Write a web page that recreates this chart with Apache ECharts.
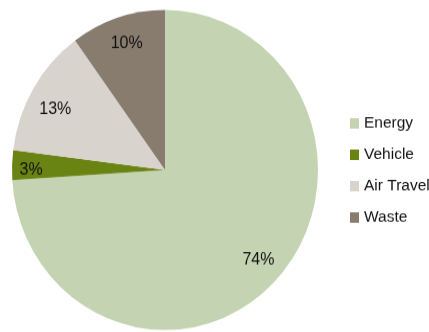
<!DOCTYPE html>
<html>
<head>
<meta charset="utf-8">
<script src="https://cdn.jsdelivr.net/npm/echarts@6/dist/echarts.min.js"></script>
<style>
  html, body { margin: 0; padding: 0; background: #fff; overflow: hidden; }
  #wrap { width: 429px; height: 332px; overflow: hidden; }
  /* the chart is drawn slightly compressed and stretched back vertically */
  #chart { width: 429px; height: 317.5px; transform-origin: 0 0; transform: scaleY(1.0457); }
</style>
</head>
<body>
<div id="wrap"><div id="chart"></div></div>
<script>
// Emission sources, share of total footprint (%)
const categories = ['Energy', 'Vehicle', 'Air Travel', 'Waste'];
const shares = [74, 3, 13, 10];
const colors = ['#c4d3b1', '#6a8414', '#d9d3cd', '#877c6e'];

const pieData = categories.map((name, i) => ({
  name: name,
  value: shares[i],
  itemStyle: { color: colors[i] }
}));

// small nudges so the narrow slices' labels sit nearer the rim
const labelNudge = { 'Vehicle': [-10, 4], 'Air Travel': [-3, 5], 'Waste': [0, -3], 'Energy': [3, 1] };

const chart = echarts.init(document.getElementById('chart'), null, { renderer: 'canvas' });

chart.setOption({
  animation: false,
  legend: {
    orient: 'vertical',
    left: 345,
    top: 105,
    icon: 'rect',
    itemWidth: 9,
    itemHeight: 10,
    itemGap: 14,
    data: categories,
    textStyle: {
      fontFamily: 'Liberation Sans, Arial, sans-serif',
      fontSize: 15.5,
      color: '#111'
    },
    selectedMode: false
  },
  series: [
    {
      type: 'pie',
      center: [165, 162.6],
      radius: [0, 153],
      startAngle: 90,
      clockwise: true,
      label: { show: false },
      labelLine: { show: false },
      emphasis: { disabled: true },
      silent: true,
      data: pieData
    },
    {
      // transparent ring that carries the percentage labels near the rim
      type: 'pie',
      center: [165, 162.6],
      radius: [92, 150],
      startAngle: 90,
      clockwise: true,
      silent: true,
      emphasis: { disabled: true },
      itemStyle: { color: 'rgba(0,0,0,0)' },
      labelLine: { show: false },
      label: {
        show: true,
        position: 'inside',
        formatter: p => p.value + '%',
        fontFamily: 'Liberation Sans, Arial, sans-serif',
        fontSize: 16,
        color: '#111'
      },
      data: categories.map((name, i) => ({
        name: name,
        value: shares[i],
        label: { offset: labelNudge[name] }
      }))
    }
  ]
});
</script>
</body>
</html>
